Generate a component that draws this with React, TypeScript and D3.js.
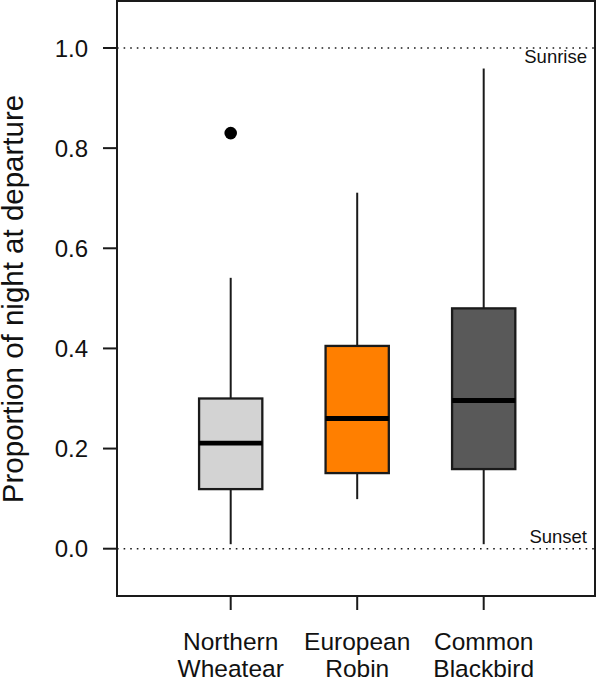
import React from "react";
import * as d3 from "d3";

const categories = [["Northern", "Wheatear"], ["European", "Robin"], ["Common", "Blackbird"]];
const q1 = [0.119, 0.151, 0.159];
const medians = [0.211, 0.26, 0.296];
const q3 = [0.3, 0.405, 0.48];
const whiskerLow = [0.009, 0.099, 0.009];
const whiskerHigh = [0.541, 0.711, 0.959];
const outlierCat = [0];
const outlierVal = [0.83];
const fills = ["#d3d3d3", "#ff7f00", "#595959"];
const yTicks = [0, 0.2, 0.4, 0.6, 0.8, 1.0];
const refLines = [{ v: 1.0, label: "Sunrise", dy: 15 }, { v: 0.0, label: "Sunset", dy: -6 }];

const W = 597;
const H = 686;
const frame = { left: 117, right: 595, top: 1, bottom: 596 };

export default function App() {
  const x = d3.scaleLinear().domain([1, 3]).range([230.7, 483.7]);
  const y = d3.scaleLinear().domain([0, 1]).range([548.7, 48]);
  const halfW = (x(1.25) as number) - (x(1) as number);
  const font = "'Liberation Sans', Arial, Helvetica, sans-serif";
  const ink = "#1a1a1a";

  return (
    <svg
      width={W}
      height={H}
      style={{ position: "absolute", left: 0, top: 0, background: "#fff" }}
      fontFamily={font}
    >
      {/* reference lines */}
      {refLines.map((r) => (
        <g key={r.label}>
          <line
            x1={frame.left}
            x2={frame.right}
            y1={y(r.v)}
            y2={y(r.v)}
            stroke={ink}
            strokeWidth={1.6}
            strokeDasharray="1.6 5"
          />
          <text x={587} y={y(r.v) + r.dy} fontSize={18.5} textAnchor="end" fill="#111">
            {r.label}
          </text>
        </g>
      ))}

      {/* boxes */}
      {categories.map((c, i) => {
        const cx = x(i + 1);
        return (
          <g key={i}>
            <line x1={cx} x2={cx} y1={y(q3[i])} y2={y(whiskerHigh[i])} stroke={ink} strokeWidth={2} />
            <line x1={cx} x2={cx} y1={y(q1[i])} y2={y(whiskerLow[i])} stroke={ink} strokeWidth={2} />
            <rect
              x={cx - halfW}
              y={y(q3[i])}
              width={2 * halfW}
              height={y(q1[i]) - y(q3[i])}
              fill={fills[i]}
              stroke={ink}
              strokeWidth={2.3}
            />
            <line
              x1={cx - halfW}
              x2={cx + halfW}
              y1={y(medians[i])}
              y2={y(medians[i])}
              stroke="#000"
              strokeWidth={4.8}
            />
          </g>
        );
      })}

      {/* outliers */}
      {outlierVal.map((v, k) => (
        <circle key={k} cx={x(outlierCat[k] + 1)} cy={y(v)} r={6.3} fill="#000" />
      ))}

      {/* frame */}
      <rect
        x={frame.left}
        y={frame.top}
        width={frame.right - frame.left}
        height={frame.bottom - frame.top}
        fill="none"
        stroke={ink}
        strokeWidth={2}
      />

      {/* y axis */}
      {yTicks.map((t) => (
        <g key={t}>
          <line x1={103} x2={frame.left} y1={y(t)} y2={y(t)} stroke={ink} strokeWidth={2} />
          <text x={88} y={y(t)} dy="0.36em" fontSize={24} textAnchor="end" fill="#111">
            {d3.format(".1f")(t)}
          </text>
        </g>
      ))}
      <text
        transform={`translate(23,299) rotate(-90)`}
        textAnchor="middle"
        fontSize={29.5}
        fill="#111"
      >
        Proportion of night at departure
      </text>

      {/* x axis */}
      {categories.map((c, i) => (
        <g key={i}>
          <line x1={x(i + 1)} x2={x(i + 1)} y1={frame.bottom} y2={610} stroke={ink} strokeWidth={2} />
          <text x={x(i + 1)} y={650} fontSize={24.5} textAnchor="middle" fill="#111">
            {c[0]}
          </text>
          <text x={x(i + 1)} y={677} fontSize={24.5} textAnchor="middle" fill="#111">
            {c[1]}
          </text>
        </g>
      ))}
    </svg>
  );
}
